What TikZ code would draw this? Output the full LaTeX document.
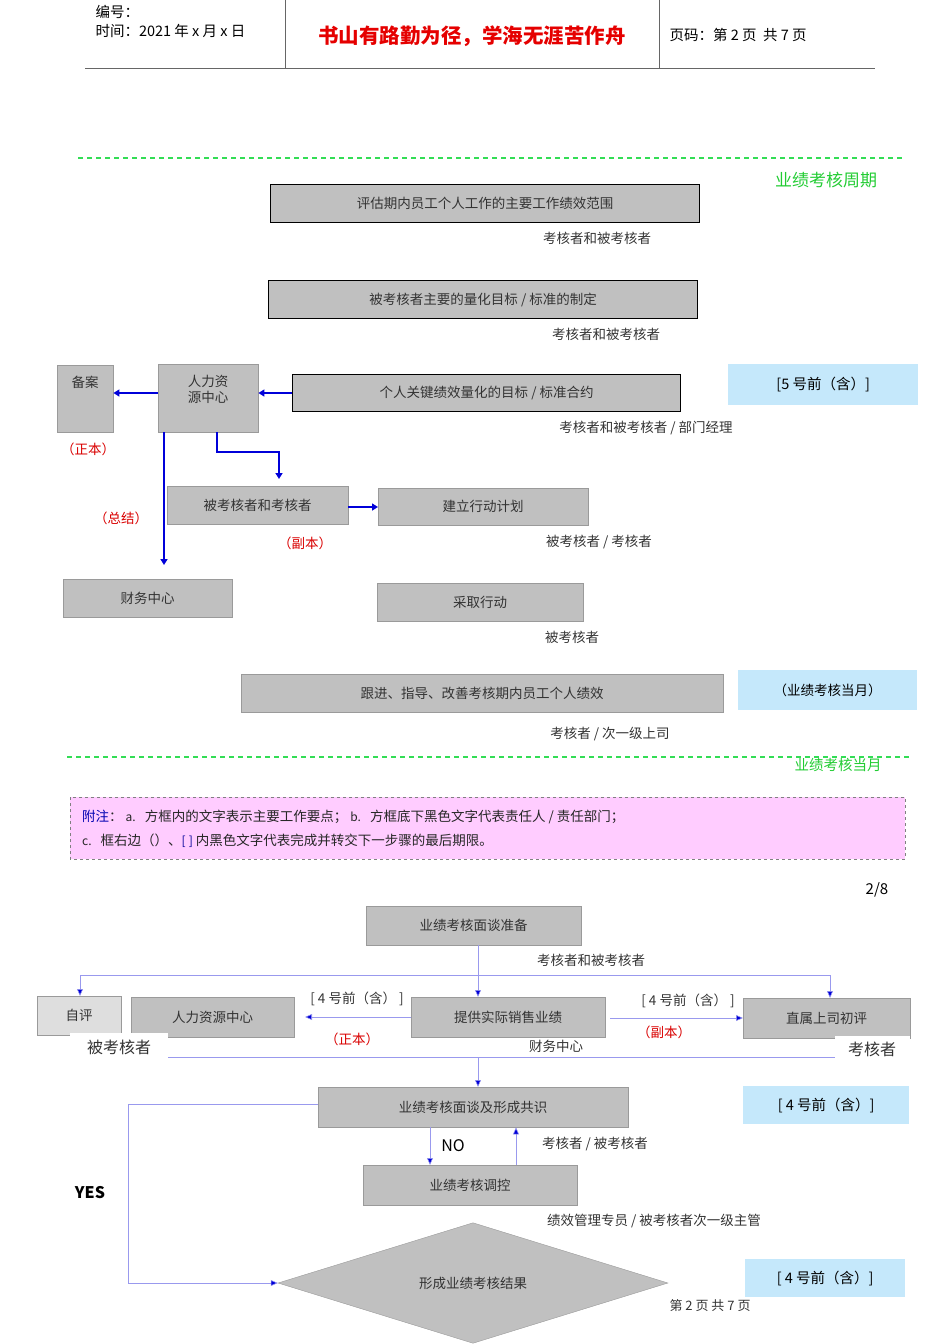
\documentclass[tikz,border=0pt]{standalone}
\usepackage{fontspec}
\setmainfont{Noto Sans CJK SC}
\usetikzlibrary{shapes.geometric,arrows.meta}
\definecolor{boxgray}{HTML}{C0C0C0}
\definecolor{edgegray}{HTML}{9A9A9A}
\definecolor{lblue}{HTML}{C5E8FB}
\definecolor{pinkbg}{HTML}{FFCCFF}
\definecolor{gline}{HTML}{33DD55}
\definecolor{gtext}{HTML}{22CC33}
\definecolor{thinln}{HTML}{9999EE}
\tikzset{
 box/.style={draw=edgegray,fill=boxgray,anchor=north west,inner sep=0pt,font=\fontsize{13.5}{16}\selectfont,text=black!80},
 tbox/.style={box,draw=black,line width=1.3pt},
 bluebox/.style={fill=lblue,anchor=north west,inner sep=0pt,font=\fontsize{14.5}{16}\selectfont},
 lab/.style={font=\fontsize{13.5}{16}\selectfont,text=black!80,inner sep=1pt},
 red/.style={lab,text=red!85!black},
 barr/.style={draw=blue!85!black,line width=1.6pt,-{Triangle[length=6pt,width=7pt]}},
 tarr/.style={draw=thinln,line width=0.6pt,-{Triangle[length=7pt,width=6pt,fill=blue!85!black]}},
 tln/.style={draw=thinln,line width=0.6pt},
 gdash/.style={draw=gline,line width=1.2pt,dash pattern=on 5pt off 4pt}
}
\begin{document}
\begin{tikzpicture}[x=1pt,y=-1pt]
\useasboundingbox (0,0) rectangle (950,1344);
% header
\draw[black!60] (85,68) -- (875,68) (285,0) -- (285,68) (659,0) -- (659,68);
\node[anchor=west,font=\fontsize{14.5}{16}\selectfont] (h1) at (92,12) {编号：};
\node[anchor=west,font=\fontsize{14.5}{16}\selectfont] (h2) at (92,31) {时间：2021 年 x 月 x 日};
\node[font=\fontsize{20.5}{22}\selectfont\bfseries,text=red!90!black] (h3) at (472,36) {书山有路勤为径，学海无涯苦作舟};
\node[anchor=west,font=\fontsize{14.5}{16}\selectfont] (h4) at (666,35) {页码：第 2 页\ \ 共 7 页};
% top section
\draw[gdash] (78,158) -- (905,158);
\node[text=gtext,font=\fontsize{17}{19}\selectfont] (cyc) at (826,180) {业绩考核周期};
\node[tbox,minimum width=429pt,minimum height=38pt] (b1) at (270,184) {评估期内员工个人工作的主要工作绩效范围};
\node[lab] (l1) at (597,238) {考核者和被考核者};
\node[tbox,minimum width=429pt,minimum height=38pt] (b2) at (268,280) {被考核者主要的量化目标 / 标准的制定};
\node[lab] (l2) at (606,334) {考核者和被考核者};
\node[tbox,minimum width=388pt,minimum height=37pt] (b3) at (292,374) {个人关键绩效量化的目标 / 标准合约};
\node[lab] (l3) at (646,428) {考核者和被考核者 / 部门经理};
\node[bluebox,minimum width=190pt,minimum height=41pt] (bl1) at (728,364) {{\Large[}5 号前（含）{\Large]}};
\node[box,minimum width=56pt,minimum height=67pt] (ba) at (57,365) {};
\node[lab] (bat) at (85,382) {备案};
\node[box,minimum width=100pt,minimum height=68pt] (hr) at (158,364) {};
\node[lab,align=center] (hrt) at (208,389) {人力资\\源中心};
\draw[barr] (b3.west |- 0,393) -- (hr.east |- 0,393);
\draw[barr] (hr.west |- 0,393) -- (ba.east |- 0,393);
\node[red] (r1) at (88,449) {（正本）};
\node[box,minimum width=181pt,minimum height=38pt] (bk) at (167,486) {被考核者和考核者};
\node[box,minimum width=210pt,minimum height=37pt] (jl) at (378,488) {建立行动计划};
\node[box,minimum width=169pt,minimum height=38pt] (cw) at (63,579) {财务中心};
\coordinate (cwt) at (164,565);
\draw[barr] (164,432) -- (cwt);
\coordinate (bkt) at (279,479);
\draw[barr] (217,432) -- (217,452) -- (279,452) -- (bkt);
\draw[barr] (bk.east |- 0,507) -- (jl.west |- 0,507);
\node[red] (r2) at (121,518) {（总结）};
\node[red] (r3) at (305,543) {（副本）};
\node[lab] (l4) at (599,542) {被考核者 / 考核者};
\node[box,minimum width=206pt,minimum height=38pt] (cq) at (377,583) {采取行动};
\node[lab] (l5) at (572,637) {被考核者};
\node[box,minimum width=482pt,minimum height=38pt] (gj) at (241,674) {跟进、指导、改善考核期内员工个人绩效};
\node[lab] (l6) at (610,734) {考核者 / 次一级上司};
\node[bluebox,minimum width=179pt,minimum height=40pt,font=\fontsize{13.5}{16}\selectfont] (bl2) at (738,670) {（业绩考核当月）};
\draw[gdash] (67,757) -- (910,757);
\node[text=gtext,font=\fontsize{14.5}{16}\selectfont] (mon) at (838,765) {业绩考核当月};
% note
\draw[fill=pinkbg,draw=black!50,line width=1pt,dashed] (70,797) rectangle (905,859);
\node[anchor=west,font=\fontsize{13.5}{16}\selectfont,text=black!85,inner sep=0] (n1) at (82,817) {\textcolor{blue!70!black}{附注}：\ {\large a.}\ \ \ 方框内的文字表示主要工作要点；\ {\large b.}\ \ \ 方框底下黑色文字代表责任人 / 责任部门；};
\node[anchor=west,font=\fontsize{13.5}{16}\selectfont,text=black!85,inner sep=0] (n2) at (82,841) {{\large c.}\ \ \ 框右边（）、\textcolor{blue!60!black}{{\large[}\ {\large]}}\ 内黑色文字代表完成并转交下一步骤的最后期限。};
\node[font=\fontsize{15}{17}\selectfont] (pg) at (877,890) {2/8};
% bottom section
\node[box,minimum width=215pt,minimum height=39pt] (mz) at (366,906) {业绩考核面谈准备};
\node[lab] (l7) at (591,960) {考核者和被考核者};
\node[box,fill=black!13,minimum width=84pt,minimum height=39pt] (zp) at (37,996) {自评};
\node[box,minimum width=163pt,minimum height=40pt] (hr2) at (131,997) {人力资源中心};
\node[box,minimum width=194pt,minimum height=40pt] (tg) at (411,997) {提供实际销售业绩};
\node[box,minimum width=167pt,minimum height=40pt] (zs) at (743,998) {直属上司初评};
\draw[tln] (80,975) -- (830,975);
\draw[tarr] (80,975) -- (zp.north -| 80,0);
\draw[tarr] (830,975) -- (zs.north -| 830,0);
\draw[tarr] (mz.south -| 478,0) -- (tg.north -| 478,0);
\node[lab] (d1) at (357,999) {[ 4 号前（含） ]};
\node[lab] (d2) at (688,1001) {[ 4 号前（含） ]};
\coordinate (hre) at (305,1017);
\draw[tarr] (tg.west |- 0,1017) -- (hre);
\draw[tarr] (610,1018) -- (zs.west |- 0,1018);
\node[red] (r4) at (352,1039) {（正本）};
\node[red] (r5) at (664,1032) {（副本）};
\node[lab] (l8) at (556,1046) {财务中心};
\draw[tln] (70,1057) -- (835,1057);
\node[fill=white,minimum width=98pt,minimum height=28pt,inner sep=0,font=\fontsize{16}{18}\selectfont,text=black!80] (bk2) at (119,1047) {被考核者};
\node[fill=white,minimum width=75pt,minimum height=27pt,inner sep=0,font=\fontsize{16}{18}\selectfont,text=black!80] (kh2) at (872,1049) {考核者};
\node[box,minimum width=310pt,minimum height=40pt] (gs) at (318,1087) {业绩考核面谈及形成共识};
\draw[tarr] (478,1057) -- (gs.north -| 478,0);
\node[bluebox,minimum width=166pt,minimum height=38pt] (bl3) at (743,1086) {{\Large[}\ 4 号前（含）{\Large]}};
\node[box,minimum width=214pt,minimum height=40pt] (tk) at (363,1165) {业绩考核调控};
\draw[tarr] (gs.south -| 430,0) -- (tk.north -| 430,0);
\draw[tarr] (tk.north -| 516,0) -- (gs.south -| 516,0);
\node[font=\fontsize{16}{18}\selectfont] (no) at (453,1146) {NO};
\node[lab] (l9) at (595,1144) {考核者 / 被考核者};
\node[lab] (l10) at (654,1221) {绩效管理专员 / 被考核者次一级主管};
\node[font=\fontsize{16}{18}\selectfont\bfseries] (yes) at (90,1193) {YES};
\node[diamond,fill=boxgray,draw=edgegray,minimum width=390pt,minimum height=80pt,inner sep=0,font=\fontsize{13.5}{16}\selectfont,text=black!80] (jg) at (473,1283) {形成业绩考核结果};
\draw[tarr] (gs.west |- 0,1104) -- (128,1104) -- (128,1283) -- (jg.west);
\node[bluebox,minimum width=160pt,minimum height=38pt] (bl4) at (745,1259) {{\Large[}\ 4 号前（含）{\Large]}};
\node[lab,font=\fontsize{13}{15}\selectfont] (ft) at (710,1306) {第 2 页 共 7 页};
\end{tikzpicture}
\end{document}
